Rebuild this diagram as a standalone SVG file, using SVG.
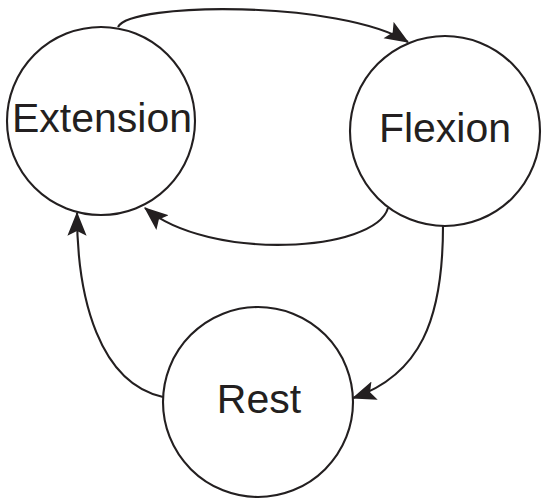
<svg xmlns="http://www.w3.org/2000/svg" width="546" height="503" viewBox="0 0 546 503">
<style>
.node{fill:#fff;stroke:#231f20;stroke-width:2.1}
.lbl{font-family:"Liberation Sans",Arial,sans-serif;font-size:41px;fill:#231f20;text-anchor:middle}
.edge{fill:none;stroke:#231f20;stroke-width:2.1}
</style>
<defs>
<marker id="arr" markerUnits="userSpaceOnUse" markerWidth="24" markerHeight="20" viewBox="0 0 20 16" refX="19" refY="8" orient="auto">
<path d="M0,0 L20,8 L0,16 L4,8 z" fill="#231f20"/>
</marker>
</defs>
<g id="connectors">
<path class="edge" d="M118,27 C130,2 340,0 408,42" marker-end="url(#arr)"/>
<path class="edge" d="M388,208 C375,252 210,262 145,208" marker-end="url(#arr)"/>
<path class="edge" d="M443,226 C443,320 420,375 353,398" marker-end="url(#arr)"/>
<path class="edge" d="M163,397 C100,383 77,300 77,213" marker-end="url(#arr)"/>
</g>
<g id="extension">
<circle class="node" cx="101" cy="121" r="94"/>
<text class="lbl" x="102" y="132">Extension</text>
</g>
<g id="flexion">
<circle class="node" cx="445" cy="131" r="95"/>
<text class="lbl" x="445" y="142">Flexion</text>
</g>
<g id="rest">
<circle class="node" cx="258" cy="402" r="95"/>
<text class="lbl" x="259" y="413">Rest</text>
</g>
</svg>
